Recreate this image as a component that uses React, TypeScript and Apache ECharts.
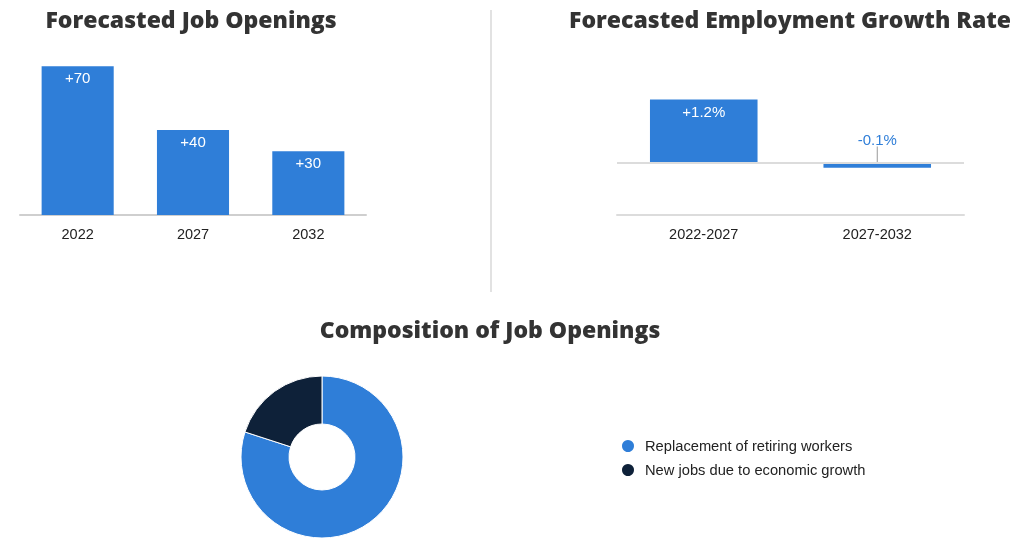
import React, { useEffect, useRef } from "react";
import * as echarts from "echarts";

const openingYears = ["2022", "2027", "2032"];
const openingValues = [70, 40, 30];
const growthPeriods = ["2022-2027", "2027-2032"];
const growthValues = [1.2, -0.1];
const compositionNames = ["Replacement of retiring workers", "New jobs due to economic growth"];
const compositionValues = [80, 20];

const BLUE = "#2F7ED8";
const NAVY = "#0E2139";
const TITLE_FONT = "'Open Sans', 'Noto Sans', sans-serif";
const LABEL_FONT = "'Liberation Sans', Arial, sans-serif";

export default function App() {
  const ref = useRef<HTMLDivElement>(null);
  useEffect(() => {
    const chart = echarts.init(ref.current!, null, { renderer: "svg" });
    const titleStyle = { fontFamily: TITLE_FONT, fontWeight: 800, fontSize: 23, color: "#333" };
    const axisLabel = { color: "#222", fontSize: 14.5, fontFamily: LABEL_FONT, margin: 11 };
    chart.setOption({
      animation: false,
      title: [
        { text: "Forecasted Job Openings", left: 191, top: 7, textAlign: "center", padding: 0, textStyle: titleStyle },
        { text: "Forecasted Employment Growth Rate", left: 790, top: 7, textAlign: "center", padding: 0, textStyle: titleStyle },
        { text: "Composition of Job Openings", left: 490, top: 317, textAlign: "center", padding: 0, textStyle: titleStyle },
      ],
      graphic: [
        { type: "line", shape: { x1: 491, y1: 10, x2: 491, y2: 292 }, style: { stroke: "#e2e2e2", lineWidth: 2 } },
      ],
      grid: [
        { left: 20, top: 45, width: 346, height: 170 },
        { left: 617, top: 57.5, width: 347, height: 157.5 },
      ],
      xAxis: [
        {
          gridIndex: 0, type: "category", data: openingYears,
          axisTick: { show: false },
          axisLine: { lineStyle: { color: "#cfcfcf", width: 2 } },
          axisLabel,
        },
        {
          gridIndex: 1, type: "category", data: growthPeriods,
          axisTick: { show: false },
          axisLine: { onZero: false, lineStyle: { color: "#dcdcdc", width: 2 } },
          axisLabel,
        },
      ],
      yAxis: [
        { gridIndex: 0, type: "value", min: 0, max: 80, show: false },
        { gridIndex: 1, type: "value", min: -1, max: 2, show: false },
      ],
      legend: {
        orient: "vertical", left: 615, top: 433, icon: "circle",
        itemWidth: 24, itemHeight: 14, itemGap: 8,
        data: compositionNames,
        textStyle: { color: "#222", fontSize: 14.7, fontFamily: LABEL_FONT },
      },
      series: [
        {
          type: "bar", xAxisIndex: 0, yAxisIndex: 0, barWidth: "62.5%",
          data: openingValues,
          itemStyle: { color: BLUE },
          label: {
            show: true, position: "insideTop", distance: 4, color: "#fff",
            fontSize: 15, fontFamily: LABEL_FONT,
            formatter: (p: any) => "+" + p.value,
          },
        },
        {
          type: "bar", xAxisIndex: 1, yAxisIndex: 1, barWidth: "62%",
          data: growthValues.map((v) =>
            v >= 0
              ? { value: v, label: { position: "insideTop", color: "#fff" }, labelLine: { show: false } }
              : { value: v, label: { position: "top", color: BLUE }, labelLine: { show: true } }
          ),
          itemStyle: { color: BLUE },
          label: {
            show: true, distance: 4, fontSize: 15, fontFamily: LABEL_FONT,
            formatter: (p: any) => (p.value > 0 ? "+" : "") + p.value + "%",
          },
          labelLayout: (p: any) => (p.dataIndex === 1 ? { dy: -12 } : {}),
          labelLine: { lineStyle: { color: "#999", width: 1 } },
          markLine: {
            silent: true, symbol: "none", label: { show: false },
            lineStyle: { color: "#dcdcdc", type: "solid", width: 2 },
            data: [{ yAxis: 0 }],
          },
        },
        {
          type: "pie", center: [322, 457], radius: [33, 81],
          label: { show: false }, labelLine: { show: false },
          itemStyle: { borderColor: "#fff", borderWidth: 1 },
          data: compositionNames.map((n, i) => ({
            name: n, value: compositionValues[i],
            itemStyle: { color: i === 0 ? BLUE : NAVY },
          })),
        },
      ],
    });
    return () => chart.dispose();
  }, []);
  return <div ref={ref} style={{ position: "fixed", left: 0, top: 0, width: 1010, height: 538 }} />;
}
